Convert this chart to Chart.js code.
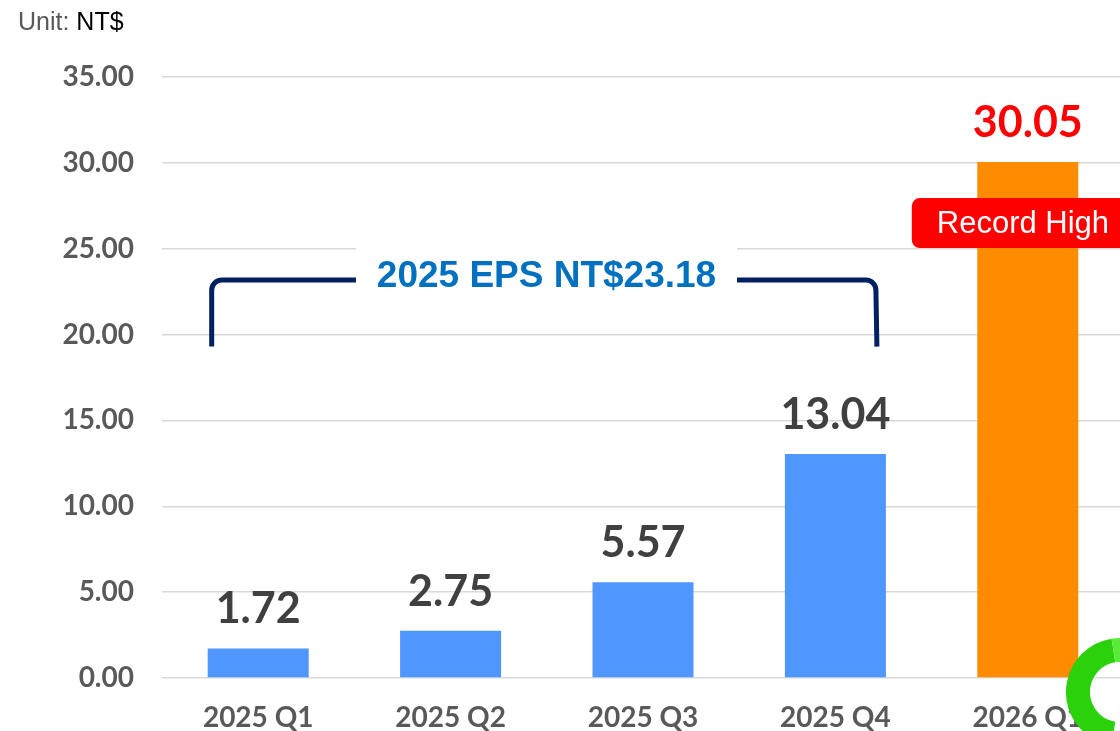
<!DOCTYPE html>
<html>
<head>
<meta charset="utf-8">
<script src="https://cdn.jsdelivr.net/npm/chart.js@4"></script>
<style>
  body { margin: 0; background: #fff; overflow: hidden; }
  #wrap { position: relative; width: 1124px; height: 731px; }
  #unit { position: absolute; left: 18px; top: 7px; font: 25px "Liberation Sans", Arial, sans-serif; color: #595959; z-index: 2; }
  #unit span { color: #000; }
</style>
</head>
<body>
<div id="wrap">
  <div id="unit">Unit: <span>NT$</span></div>
  <canvas id="epsChart"></canvas>
</div>
<script>
// Data
const categories = ['2025 Q1', '2025 Q2', '2025 Q3', '2025 Q4', '2026 Q1'];
const eps = [1.72, 2.75, 5.57, 13.04, 30.05];
const annualEps = 23.18;
const bracketLabel = '2025 EPS NT$23.18';
const recordLabel = 'Record High';

// Colours
const blue = '#4F97FF', orange = '#FF8C00';
const barColors = eps.map((v, i) => i === eps.length - 1 ? orange : blue);

// Value labels + bracket + record box
const overlay = {
    id: 'overlay',
    afterDatasetsDraw(chart) {
        const ctx = chart.ctx;
        const meta = chart.getDatasetMeta(0);
        const y = chart.scales.y;
        ctx.save();

        // value labels
        ctx.textAlign = 'center';
        ctx.textBaseline = 'middle';
        ctx.font = 'bold 43px Lato';
        meta.data.forEach((bar, i) => {
            ctx.fillStyle = i === eps.length - 1 ? '#FF0000' : '#404040';
            ctx.fillText(eps[i].toFixed(2), bar.x, bar.y - 39);
        });

        // bracket over 2025 quarters
        const b0 = meta.data[0], b3 = meta.data[3];
        const lx = b0.x - b0.width / 2 + 4, rx = b3.x + b3.width / 2 - 10;
        const ty = y.getPixelForValue(annualEps), by = y.getPixelForValue(19.3);
        const gapL = 356, gapR = 737;
        ctx.fillStyle = '#fff';
        ctx.fillRect(gapL, y.getPixelForValue(25) - 8, gapR - gapL, ty - y.getPixelForValue(25) + 20);
        ctx.strokeStyle = '#002060';
        ctx.lineWidth = 5;
        ctx.lineJoin = 'round';
        ctx.beginPath();
        ctx.moveTo(lx, by);
        ctx.lineTo(lx, ty + 10);
        ctx.arcTo(lx, ty, lx + 10, ty, 10);
        ctx.lineTo(gapL, ty);
        ctx.moveTo(gapR, ty);
        ctx.lineTo(rx - 10, ty);
        ctx.arcTo(rx, ty, rx, ty + 10, 10);
        ctx.lineTo(rx + 1, by);
        ctx.stroke();
        ctx.fillStyle = '#0070C0';
        ctx.font = 'bold 37px "Liberation Sans"';
        ctx.fillText(bracketLabel, (gapL + gapR) / 2, ty - 3);

        // record high box
        const last = meta.data[eps.length - 1];
        const top = y.getPixelForValue(27.95), bot = y.getPixelForValue(25.04);
        const bx = last.x - 116;
        ctx.fillStyle = '#FF0000';
        ctx.beginPath();
        ctx.roundRect(bx, top, 260, bot - top, 8);
        ctx.fill();
        ctx.fillStyle = '#fff';
        ctx.font = '31px "Liberation Sans"';
        ctx.textAlign = 'left';
        ctx.fillText(recordLabel, bx + 25, (top + bot) / 2 + 1);

        // logo fragment, bottom right
        const cx = chart.chartArea.right - 4, cy = chart.chartArea.bottom + 14;
        ctx.lineWidth = 24;
        ctx.strokeStyle = '#2BD10A';
        ctx.beginPath();
        ctx.arc(cx, cy, 42, Math.PI * 0.55, Math.PI * 1.45);
        ctx.stroke();
        ctx.strokeStyle = '#5BEA3A';
        ctx.beginPath();
        ctx.arc(cx, cy, 42, Math.PI * 1.45, Math.PI * 1.75);
        ctx.stroke();
        ctx.restore();
    }
};

new Chart(document.getElementById('epsChart'), {
    type: 'bar',
    data: {
        labels: categories,
        datasets: [{ data: eps, backgroundColor: barColors, categoryPercentage: 1, barPercentage: 0.525 }]
    },
    options: {
        responsive: true, maintainAspectRatio: false, animation: false,
        layout: { padding: { top: 77, left: 0, right: 0, bottom: 0 } },
        plugins: { legend: { display: false }, tooltip: { enabled: false } },
        scales: {
            x: {
                grid: { display: false, drawTicks: false }, border: { display: false },
                ticks: { font: { family: 'Lato', weight: 'bold', size: 28 }, color: '#595959', padding: 23 },
                afterFit: s => { s.height = 53; }
            },
            y: {
                min: 0, max: 35,
                grid: { color: '#D9D9D9', lineWidth: 1.5, drawTicks: false }, border: { display: false },
                ticks: { stepSize: 5, font: { family: 'Lato', weight: 'bold', size: 28 }, color: '#595959', padding: 28,
                         callback: v => v.toFixed(2) },
                afterFit: s => { s.width = 162; }
            }
        }
    },
    plugins: [overlay]
});
</script>
</body>
</html>
